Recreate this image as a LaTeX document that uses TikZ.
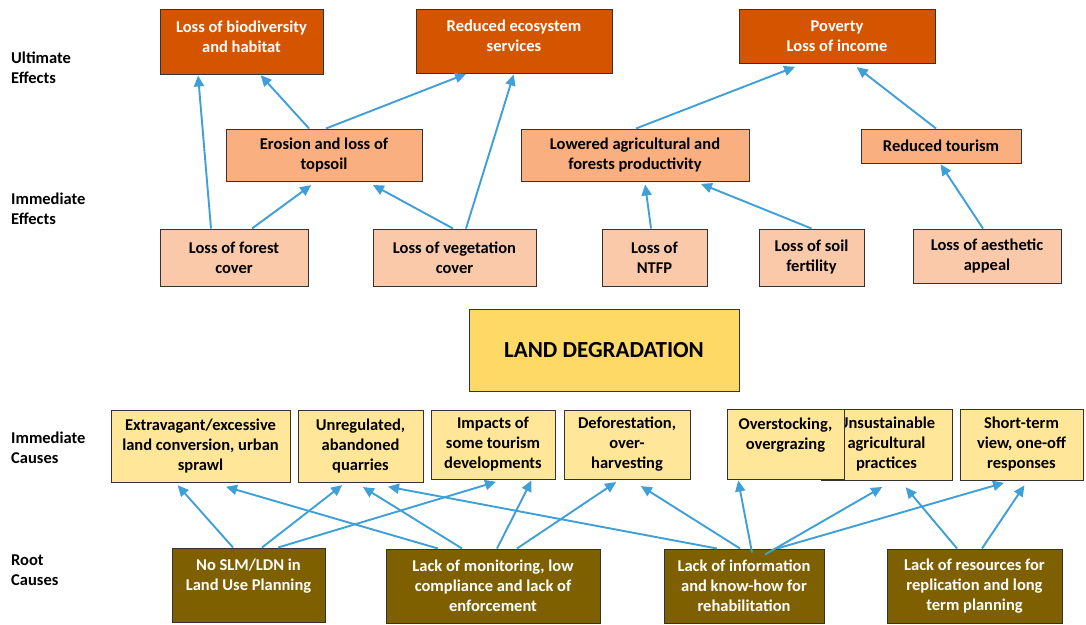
\documentclass[tikz,border=0pt]{standalone}
\usepackage{fontspec}
\setmainfont{Carlito}
\usepackage{xcolor}
\usepackage{tikz}
\usetikzlibrary{arrows.meta}

\definecolor{ultimate}{HTML}{D45400}
\definecolor{immeffect}{HTML}{F9AF80}
\definecolor{lossfx}{HTML}{FAC9A9}
\definecolor{landdeg}{HTML}{FFD966}
\definecolor{immcause}{HTML}{FFE699}
\definecolor{rootcause}{HTML}{7F6000}
\definecolor{arrowblue}{HTML}{3FA0D8}

\begin{document}
\begin{tikzpicture}[x=1pt, y=-1pt,
        font=\fontsize{16.5}{20}\selectfont\bfseries,
        box/.style={draw=black!80, line width=1pt, rectangle, align=center, inner sep=0pt},
        ultbox/.style={box, fill=ultimate, text=white},
        effbox/.style={box, fill=immeffect},
        lossbox/.style={box, fill=lossfx},
        causebox/.style={box, fill=immcause},
        rootbox/.style={box, fill=rootcause, text=white},
        sidelabel/.style={anchor=west, align=left, inner sep=0pt},
        link/.style={-{Triangle[length=11pt,width=10pt]}, draw=arrowblue, line width=1.9pt, shorten >=1pt}]
        \path [fill=white, use as bounding box] (0,0) rectangle (1086,624);

        % Row labels
        \node [sidelabel] (ultlabel) at (11,68) {Ultimate\\Effects};
        \node [sidelabel] (efflabel) at (11,209) {Immediate\\Effects};
        \node [sidelabel] (causelabel) at (11,448) {Immediate\\Causes};
        \node [sidelabel] (rootlabel) at (11,570) {Root\\Causes};

        % Nodes for ultimate effects
        \node [ultbox, minimum width=163pt, minimum height=65pt] (lossbio) at (241.5,41.5) {Loss of biodiversity\\and habitat\\[-10pt]~};
        \node [ultbox, minimum width=196pt, minimum height=64pt] (ecoserv) at (514,41) {Reduced ecosystem\\services\\[-10pt]~};
        \node [ultbox, minimum width=196pt, minimum height=54pt] (poverty) at (837,36) {Poverty\\Loss of income};

        % Nodes for immediate effects
        \node [effbox, minimum width=196pt, minimum height=52pt] (erosion) at (324,155) {Erosion and loss of\\topsoil};
        \node [effbox, minimum width=228pt, minimum height=52pt] (lowered) at (635,155) {Lowered agricultural and\\forests productivity};
        \node [effbox, minimum width=160pt, minimum height=34pt] (redtour) at (941,146) {Reduced tourism};
        \node [lossbox, minimum width=148pt, minimum height=57pt] (forest) at (234,257.5) {Loss of forest\\cover};
        \node [lossbox, minimum width=163pt, minimum height=57pt] (vegetation) at (454.5,257.5) {Loss of vegetation\\cover};
        \node [lossbox, minimum width=105pt, minimum height=57pt] (ntfp) at (654.5,257.5) {Loss of\\NTFP};
        \node [lossbox, minimum width=105pt, minimum height=57pt] (soil) at (811.5,257.5) {Loss of soil\\fertility};
        \node [lossbox, minimum width=148pt, minimum height=54pt] (aesthetic) at (987,256) {Loss of aesthetic\\appeal};

        % Centre
        \node [box, fill=landdeg, minimum width=270pt, minimum height=82pt, font=\fontsize{23}{28}\selectfont\bfseries] (landdeg) at (604,350) {LAND DEGRADATION};

        % Nodes for immediate causes
        \node [causebox, minimum width=179pt, minimum height=72pt] (sprawl) at (200.5,446) {Extravagant/excessive\\land conversion, urban\\sprawl};
        \node [causebox, minimum width=125pt, minimum height=72pt] (quarries) at (360.5,446) {Unregulated,\\abandoned\\quarries};
        \node [causebox, minimum width=124pt, minimum height=69pt] (tourism) at (493,444.5) {Impacts of\\some tourism\\developments};
        \node [causebox, minimum width=126pt, minimum height=69pt] (deforest) at (627,444.5) {Deforestation,\\over-\\harvesting};
        \node [causebox, minimum width=131pt, minimum height=71pt] (unsust) at (886.5,444.5) {Unsustainable\\agricultural\\practices};
        \node [causebox, minimum width=117pt, minimum height=70pt] (overstock) at (785.5,444) {Overstocking,\\overgrazing\\~};
        \node [causebox, minimum width=123pt, minimum height=71pt] (shortterm) at (1021.5,444.5) {Short-term\\view, one-off\\responses};

        % Nodes for root causes
        \node [rootbox, minimum width=153pt, minimum height=74pt] (noslm) at (248.5,585) {No SLM/LDN in\\Land Use Planning\\~};
        \node [rootbox, minimum width=214pt, minimum height=74pt] (monitor) at (493,586) {Lack of monitoring, low\\compliance and lack of\\enforcement};
        \node [rootbox, minimum width=160pt, minimum height=74pt] (info) at (744,586) {Lack of information\\and know-how for\\rehabilitation};
        \node [rootbox, minimum width=175pt, minimum height=74pt] (resources) at (974.5,586) {Lack of resources for\\replication and long\\term planning};

        % Arrows for effects
        \draw [link] ([xshift=-23pt]forest.north) -- ([xshift=-43.5pt]lossbio.south);
        \draw [link] ([xshift=-15pt]erosion.north) -- ([xshift=18.5pt]lossbio.south);
        \draw [link] ([xshift=2pt]erosion.north) -- ([xshift=-47pt]ecoserv.south);
        \draw [link] ([xshift=11.5pt]vegetation.north) -- (ecoserv.south);
        \draw [link] ([xshift=18pt]forest.north) -- ([xshift=-12pt,yshift=-3pt]erosion.south);
        \draw [link] ([xshift=-1.5pt]vegetation.north) -- ([xshift=48pt,yshift=-3pt]erosion.south);
        \draw [link] ([xshift=1pt]lowered.north) -- ([xshift=-41pt,yshift=-3pt]poverty.south);
        \draw [link] ([xshift=-5pt]redtour.north) -- ([xshift=19pt,yshift=-3pt]poverty.south);
        \draw [link] ([xshift=-3.5pt]ntfp.north) -- ([xshift=10pt,yshift=-2pt]lowered.south);
        \draw [link] (soil.north) -- ([xshift=65pt,yshift=-2pt]lowered.south);
        \draw [link] ([xshift=-4pt]aesthetic.north) -- ([xshift=-1pt]redtour.south);

        % Arrows for causes
        \draw [link] ([xshift=-15.5pt]noslm.north) -- ([xshift=-23.5pt,yshift=-2pt]sprawl.south);
        \draw [link] ([xshift=13.5pt]noslm.north) -- ([xshift=-17.5pt,yshift=-2pt]quarries.south);
        \draw [link] ([xshift=29.5pt]noslm.north) -- ([xshift=4pt,yshift=-2pt]tourism.south);
        \draw [link] ([xshift=-55pt]monitor.north) -- ([xshift=24.5pt,yshift=-4pt]sprawl.south);
        \draw [link] ([xshift=-31pt]monitor.north) -- ([xshift=1.5pt,yshift=-4pt]quarries.south);
        \draw [link] ([xshift=4pt]monitor.north) -- ([xshift=39pt]tourism.south);
        \draw [link] ([xshift=24pt]monitor.north) -- ([xshift=-10pt,yshift=-2pt]deforest.south);
        \draw [link] ([xshift=-27pt]info.north) -- ([xshift=26.5pt,yshift=-4pt]quarries.south);
        \draw [link] ([xshift=-4pt]info.north) -- ([xshift=13pt,yshift=-6pt]deforest.south);
        \draw [link] ([xshift=8pt,yshift=-4pt]info.north) -- ([xshift=-47.5pt]overstock.south);
        \draw [link] ([xshift=21pt,yshift=-6pt]info.north) -- ([xshift=-3.5pt,yshift=-6pt]unsust.south);
        \draw [link] ([xshift=33pt]info.north) -- ([xshift=-16.5pt,yshift=-2pt]shortterm.south);
        \draw [link] ([xshift=-17.5pt]resources.north) -- ([xshift=18.5pt,yshift=-6pt]unsust.south);
        \draw [link] ([xshift=7.5pt]resources.north) -- ([xshift=3.5pt,yshift=-4pt]shortterm.south);
\end{tikzpicture}
\end{document}
